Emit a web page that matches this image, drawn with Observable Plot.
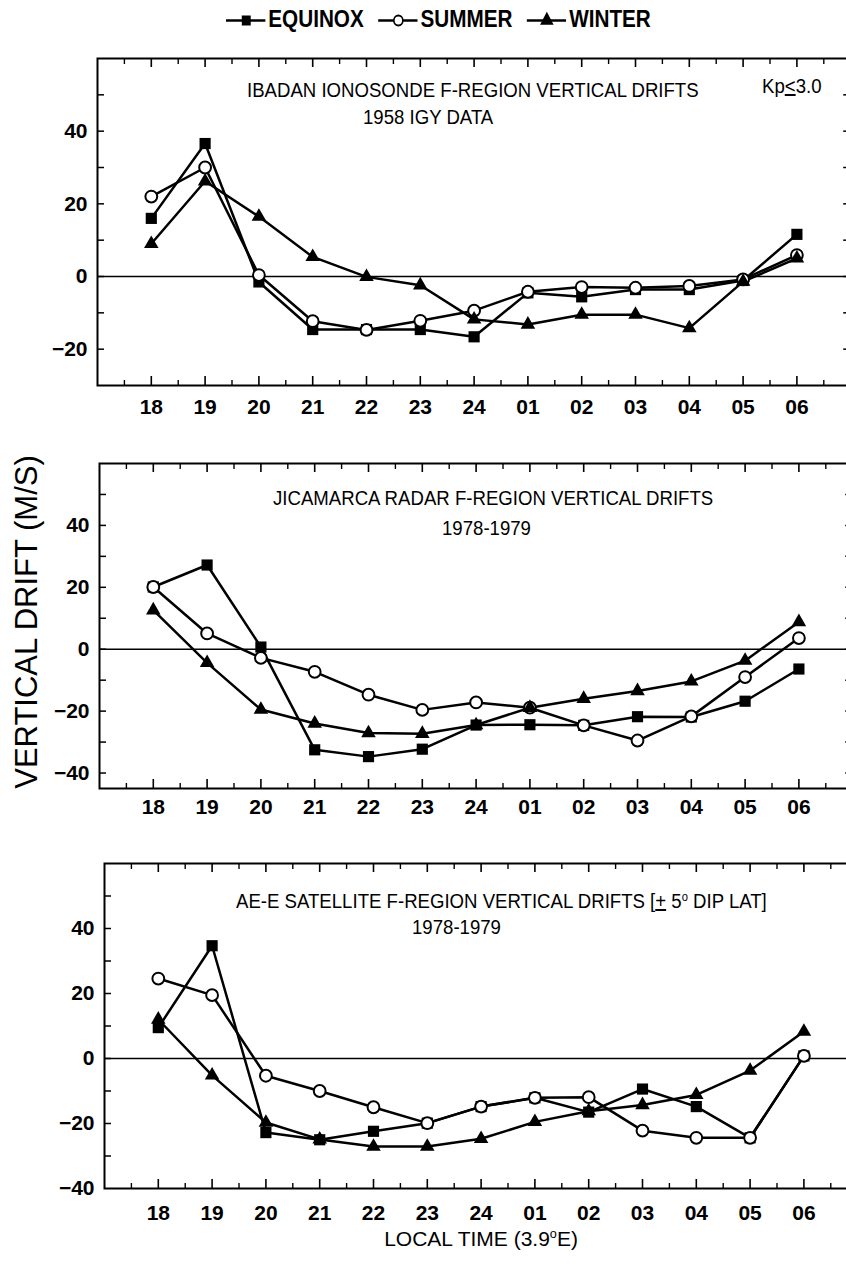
<!DOCTYPE html>
<html><head><meta charset="utf-8">
<script src="https://cdn.jsdelivr.net/npm/d3@7"></script>
<script src="https://cdn.jsdelivr.net/npm/@observablehq/plot@0.6"></script>
<style>
html,body{margin:0;padding:0;background:#fff;}
body{width:846px;height:1270px;position:relative;overflow:hidden;font-family:"Liberation Sans",Arial,sans-serif;color:#000;}
.panel{position:absolute;left:0;width:880px;}
.panel svg{max-width:none !important;display:block;background:transparent;}
.t{position:absolute;white-space:nowrap;line-height:1;transform-origin:0 50%;}
.ttl{font-size:20px;transform:scaleX(0.93);}
sup{font-size:60%;vertical-align:0.6em;line-height:0;}
#legend{position:absolute;left:226px;top:8px;display:flex;align-items:center;font-size:23px;font-weight:bold;transform:scaleX(0.9);transform-origin:0 50%;white-space:nowrap;line-height:1;}
#legend svg{display:block;margin-right:3px;}
#legend span{margin-right:16px;}
#ylab{position:absolute;left:26px;top:622px;font-size:31px;white-space:nowrap;transform:translate(-50%,-50%) rotate(-90deg);line-height:1;}
#xlab{position:absolute;left:481px;top:1238px;font-size:21px;white-space:nowrap;transform:translate(-50%,-50%);line-height:1;}
</style>
</head><body>
<div id="legend"></div>
<div id="p1" class="panel" style="top:48px"></div>
<div id="p2" class="panel" style="top:453px"></div>
<div id="p3" class="panel" style="top:853px"></div>

<div class="t ttl" style="left:247px;top:80px">IBADAN IONOSONDE F-REGION VERTICAL DRIFTS</div>
<div class="t ttl" style="left:363px;top:107px">1958 IGY DATA</div>
<div class="t ttl" style="left:762px;top:76px">Kp<u>&lt;</u>3.0</div>

<div class="t ttl" style="left:273px;top:488px">JICAMARCA RADAR F-REGION VERTICAL DRIFTS</div>
<div class="t ttl" style="left:442px;top:518px">1978-1979</div>

<div class="t ttl" style="left:236px;top:891px">AE-E SATELLITE F-REGION VERTICAL DRIFTS [<u>+</u> 5<sup>o</sup> DIP LAT]</div>
<div class="t ttl" style="left:412px;top:917px">1978-1979</div>

<div id="ylab">VERTICAL DRIFT (M/S)</div>
<div id="xlab">LOCAL TIME (3.9<sup>o</sup>E)</div>

<script>
// ---- data ----
const hours = ["18","19","20","21","22","23","24","01","02","03","04","05","06"];
const seasons = ["EQUINOX","SUMMER","WINTER"];

const ibadanEquinox = [16, 36.6, -1.5, -14.6, -14.6, -14.6, -16.6, -4.5, -5.6, -3.6, -3.6, -1.1, 11.6];
const ibadanSummer  = [22, 30, 0.4, -12.3, -14.7, -12.2, -9.4, -4.2, -2.9, -3.1, -2.6, -0.8, 5.9];
const ibadanWinter  = [9, 26.2, 16.5, 5.4, -0.1, -2.4, -11.8, -13.2, -10.5, -10.5, -14.2, -1.4, 5];

const jicEquinox = [20.1, 27.2, 0.7, -32.5, -34.7, -32.3, -24.5, -24.4, -24.6, -21.8, -21.9, -16.8, -6.4];
const jicSummer  = [20.1, 5.1, -2.8, -7.3, -14.7, -19.6, -17.2, -18.9, -24.6, -29.5, -21.7, -9, 3.6];
const jicWinter  = [12.6, -4.4, -19.5, -24, -27.1, -27.3, -24.5, -18.9, -16, -13.5, -10.4, -3.7, 8.8];

const aeEquinox = [9.5, 34.7, -22.8, -25, -22.4, -19.9, -14.8, -12.1, -16.5, -9.4, -14.8, -24.4, 0.8];
const aeSummer  = [24.6, 19.5, -5.3, -10, -15, -19.9, -14.8, -12.1, -11.9, -22.2, -24.4, -24.4, 0.8];
const aeWinter  = [12, -5.2, -19.7, -24.9, -27.1, -27.1, -24.7, -19.5, -16.2, -14.3, -11.2, -3.7, 8.3];

const ibadanYTicks = [-20,-10,0,10,20,30,40,50];
const ibadanYLabels = [-20,0,20,40];
const jicYTicks = [-40,-30,-20,-10,0,10,20,30,40,50];
const jicYLabels = [-40,-20,0,20,40];
const aeYTicks = [-30,-20,-10,0,10,20,30,40,50];
const aeYLabels = [-40,-20,0,20,40];

// ---- drawing ----
const STEP = 53.8, W = 880;
const majorX = hours.map((h, i) => i);
const minorX = hours.map((h, i) => i - 0.5).concat([hours.length - 0.5]);

function panel(el, {eq, su, wi, yDomain, yTicks, yLabels, marginLeft, frameH, labelPad}) {
  const mk = (arr, s) => arr.map((v, i) => ({i, v, season: s}));
  const eR = mk(eq, seasons[0]), sR = mk(su, seasons[1]), wR = mk(wi, seasons[2]);
  const frameW = 14 * STEP;
  const chart = Plot.plot({
    width: W,
    height: 10 + frameH + 40,
    marginLeft,
    marginRight: W - marginLeft - frameW,
    marginTop: 10,
    marginBottom: 40,
    x: {domain: [-1, 13], axis: null},
    y: {domain: yDomain, axis: null},
    style: {fontFamily: "'Liberation Sans', Arial, sans-serif", fontSize: "21px", fontWeight: "bold", color: "black", background: "transparent"},
    marks: [
      Plot.ruleY([0], {stroke: "black", strokeWidth: 1.6}),
      Plot.line(eR, {x: "i", y: "v", stroke: "black", strokeWidth: 2.5}),
      Plot.line(sR, {x: "i", y: "v", stroke: "black", strokeWidth: 2.5}),
      Plot.line(wR, {x: "i", y: "v", stroke: "black", strokeWidth: 2.5}),
      Plot.dot(eR, {x: "i", y: "v", symbol: "square", r: 6.3, fill: "black", stroke: "none"}),
      Plot.dot(sR, {x: "i", y: "v", symbol: "circle", r: 5.9, fill: "white", stroke: "black", strokeWidth: 2}),
      Plot.dot(wR, {x: "i", y: "v", symbol: "triangle", r: 5.4, fill: "black", stroke: "none"}),
      Plot.frame({stroke: "black", strokeWidth: 2}),
      Plot.tickX(majorX, {x: d => d, insetTop: frameH - 9, stroke: "black", strokeWidth: 1.6}),
      Plot.tickX(minorX, {x: d => d, insetTop: frameH - 5, stroke: "black", strokeWidth: 1.4}),
      Plot.tickX(majorX, {x: d => d, insetBottom: frameH - 9, stroke: "black", strokeWidth: 1.6}),
      Plot.tickX(minorX, {x: d => d, insetBottom: frameH - 6, stroke: "black", strokeWidth: 1.4}),
      Plot.tickY(yTicks, {y: d => d, insetRight: frameW - 7, stroke: "black", strokeWidth: 1.5}),
      Plot.tickY(yTicks, {y: d => d, insetLeft: frameW - 7, stroke: "black", strokeWidth: 1.5}),
      Plot.axisX({ticks: majorX, tickFormat: i => hours[i], tickSize: 0, tickPadding: labelPad, label: null}),
      Plot.axisY({ticks: yLabels, tickSize: 0, tickPadding: 10, label: null})
    ]
  });
  document.getElementById(el).appendChild(chart);
}

panel("p1", {eq: ibadanEquinox, su: ibadanSummer, wi: ibadanWinter, yDomain: [-30, 60],
  yTicks: ibadanYTicks, yLabels: ibadanYLabels, marginLeft: 97, frameH: 327, labelPad: 14});
panel("p2", {eq: jicEquinox, su: jicSummer, wi: jicWinter, yDomain: [-45, 60],
  yTicks: jicYTicks, yLabels: jicYLabels, marginLeft: 99, frameH: 325, labelPad: 11});
panel("p3", {eq: aeEquinox, su: aeSummer, wi: aeWinter, yDomain: [-40, 60],
  yTicks: aeYTicks, yLabels: aeYLabels, marginLeft: 104, frameH: 325, labelPad: 17});

// ---- legend ----
const legend = document.getElementById("legend");
const symbolFor = {EQUINOX: "square", SUMMER: "circle", WINTER: "triangle"};
seasons.forEach(s => {
  const sw = Plot.plot({
    width: 44, height: 22, margin: 0, axis: null,
    x: {domain: [0, 1]}, y: {domain: [0, 1]},
    marks: [
      Plot.ruleY([0.5], {stroke: "black", strokeWidth: 2.4}),
      Plot.dot([s], {x: () => 0.5, y: () => 0.5, symbol: symbolFor[s], r: s === "SUMMER" ? 5 : 5.6,
        fill: s === "SUMMER" ? "white" : "black", stroke: s === "SUMMER" ? "black" : "none", strokeWidth: 1.8})
    ]
  });
  sw.style.background = "transparent";
  legend.appendChild(sw);
  const sp = document.createElement("span");
  sp.textContent = s;
  legend.appendChild(sp);
});
</script>
</body></html>
